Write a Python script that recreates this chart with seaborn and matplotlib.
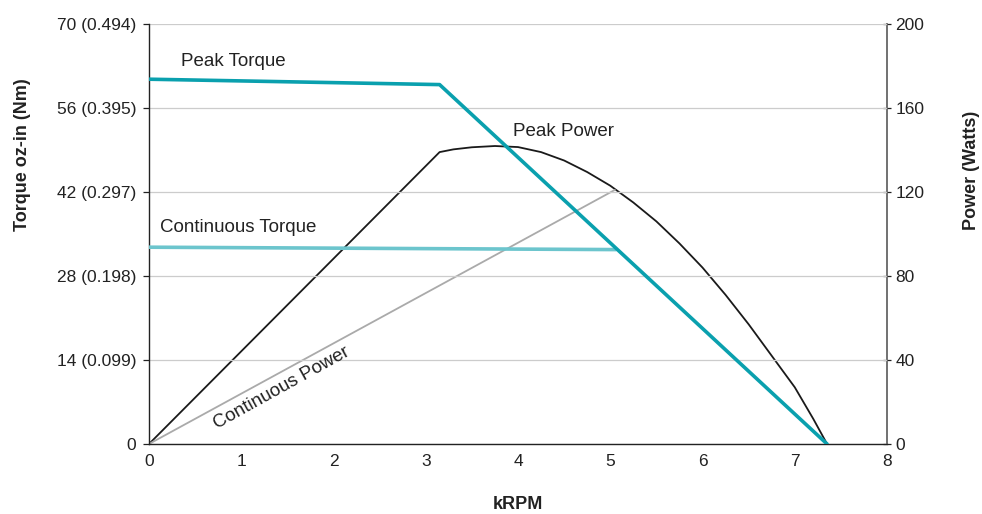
import matplotlib
matplotlib.use("Agg")
import matplotlib.pyplot as plt
import seaborn as sns
import pandas as pd

# ---- data ----
peak_torque_krpm = [0.0, 3.15, 7.35]
peak_torque_ozin = [60.8, 59.9, 0.0]

cont_torque_krpm = [0.0, 5.06]
cont_torque_ozin = [32.8, 32.4]

peak_power_krpm = [0.0, 3.15, 3.3, 3.5, 3.75, 4.0, 4.25, 4.5, 4.75, 5.0, 5.25, 5.5,
                   5.75, 6.0, 6.25, 6.5, 6.75, 7.0, 7.2, 7.35]
peak_power_watts = [0.0, 139.0, 140.3, 141.3, 141.9, 141.4, 139.0, 135.0, 129.5, 123.0,
                    115.0, 106.0, 95.5, 84.0, 71.0, 57.0, 42.0, 27.0, 12.0, 0.0]

cont_power_krpm = [0.0, 5.05]
cont_power_watts = [0.0, 121.0]

torque_ticks = [0, 14, 28, 42, 56, 70]
torque_labels = ["0", "14 (0.099)", "28 (0.198)", "42 (0.297)", "56 (0.395)", "70 (0.494)"]
power_ticks = [0, 40, 80, 120, 160, 200]
krpm_ticks = [0, 1, 2, 3, 4, 5, 6, 7, 8]

sns.set_theme(style="white")
plt.rcParams["font.family"] = ["Liberation Sans", "DejaVu Sans"]

fig = plt.figure(figsize=(9.82, 5.14), dpi=100)
ax = fig.add_axes([0.1517, 0.1362, 0.7516, 0.8171])
ax2 = ax.twinx()

teal = "#0aa0ae"
teal_light = "#6cc5cd"
txt = "#222222"

df_pt = pd.DataFrame({"x": peak_torque_krpm, "y": peak_torque_ozin})
df_ct = pd.DataFrame({"x": cont_torque_krpm, "y": cont_torque_ozin})
df_pp = pd.DataFrame({"x": peak_power_krpm, "y": peak_power_watts})
df_cp = pd.DataFrame({"x": cont_power_krpm, "y": cont_power_watts})

sns.lineplot(data=df_pp, x="x", y="y", ax=ax2, color="#1a1a1a", lw=1.3, sort=False, zorder=2)
sns.lineplot(data=df_cp, x="x", y="y", ax=ax2, color="#aaaaaa", lw=1.3, sort=False, zorder=2)

ax.set_zorder(ax2.get_zorder() + 1)
ax.patch.set_visible(False)
sns.lineplot(data=df_ct, x="x", y="y", ax=ax, color=teal_light, lw=2.6, sort=False, zorder=3)
sns.lineplot(data=df_pt, x="x", y="y", ax=ax, color=teal, lw=2.6, sort=False, zorder=4)

ax.set_xlim(0, 8)
ax.set_ylim(0, 70)
ax2.set_ylim(0, 200)

ax.set_yticks(torque_ticks)
ax.set_yticklabels(torque_labels)
ax.set_xticks(krpm_ticks)
ax2.set_yticks(power_ticks)

ax2.yaxis.grid(False)
ax.yaxis.grid(True, color="#cccccc", lw=0.9)
ax.xaxis.grid(False)

for a in (ax, ax2):
    a.spines["top"].set_visible(False)
ax.spines["right"].set_visible(False)
ax2.spines["left"].set_visible(False)
ax2.spines["bottom"].set_visible(False)
ax.spines["left"].set_color(txt)
ax.spines["bottom"].set_color(txt)
ax2.spines["right"].set_color("#666666")
for s in ("left", "bottom"):
    ax.spines[s].set_linewidth(1.0)
ax2.spines["right"].set_linewidth(1.3)

ax.tick_params(axis="both", which="major", labelsize=12.5, colors=txt,
               length=4, width=0.9, direction="out")
ax.tick_params(axis="y", pad=5)
ax.tick_params(axis="x", direction="inout", length=6, pad=4)
ax2.tick_params(axis="y", labelsize=12.5, colors=txt, length=6, width=0.9,
                direction="inout", pad=3)

ax.set_xlabel("kRPM", fontsize=13, fontweight="bold", color=txt)
ax.set_ylabel("Torque oz-in (Nm)", fontsize=13, fontweight="bold", color=txt)
ax2.set_ylabel("Power (Watts)", fontsize=13, fontweight="bold", color=txt)
ax.xaxis.set_label_coords(0.5, -0.145)
ax.yaxis.set_label_coords(-0.171, 0.688)
ax2.yaxis.set_label_coords(1.114, 0.652)
ax.xaxis.label.set_va("center")
ax.yaxis.label.set_va("center")
ax2.yaxis.label.set_va("center")

ax.text(0.35, 62.3, "Peak Torque", fontsize=13.5, color=txt, ha="left", va="bottom")
ax.text(0.12, 34.6, "Continuous Torque", fontsize=13.5, color=txt, ha="left", va="bottom")
ax.text(3.95, 50.6, "Peak Power", fontsize=13.5, color=txt, ha="left", va="bottom")
ax.text(1.44, 9.4, "Continuous Power", fontsize=13.5, color=txt, ha="center", va="center",
        rotation=29, rotation_mode="anchor")

fig.savefig("out.png", dpi=100)
